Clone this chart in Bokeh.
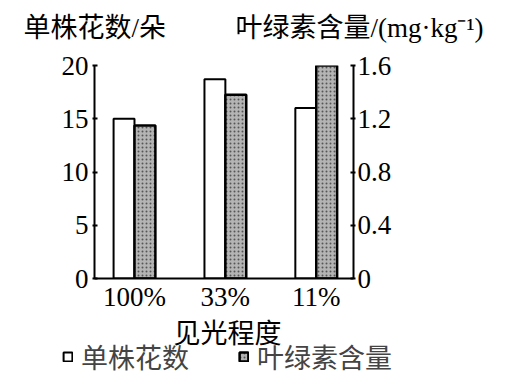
from bokeh.plotting import figure
from bokeh.layouts import column, row
from bokeh.models import (Range1d, LinearAxis, FixedTicker, Label, Legend, LegendItem,
                          ColumnDataSource)
from bokeh.transform import dodge
from bokeh.embed import file_html
from bokeh.resources import INLINE

# ---- data ----
categories = ["100%", "33%", "11%"]
flowers_per_plant = [15.0, 18.7, 16.0]      # 单株花数/朵 (left axis)
chlorophyll = [1.15, 1.38, 1.60]            # 叶绿素含量/(mg·kg⁻¹) (right axis)
left_ticks = [0, 5, 10, 15, 20]
right_ticks = [0, 0.4, 0.8, 1.2, 1.6]
left_title = "单株花数/朵"
right_title = "叶绿素含量/(mg·kg⁻¹)"
x_title = "见光程度"
legend_labels = ["单株花数", "叶绿素含量"]

SERIF = "Liberation Serif, Noto Sans CJK SC"
FS = "27px"
W = 530
HEAD_H, MAIN_H = 45, 20 + 213 + 36
FOOT_H = 377 - HEAD_H - MAIN_H

WHITE_BAR = dict(fill_color="white", line_color="black", line_width=2)
GRAY_BAR = dict(fill_color="#b4b4b4", line_color="black", line_width=2.5,
                hatch_pattern="dot", hatch_color="#555555", hatch_scale=4, hatch_weight=1)

def blank(h):
    f = figure(width=W, height=h, output_backend="svg", toolbar_location=None, title=None,
               x_range=Range1d(0, W), y_range=Range1d(0, h),
               x_axis_location=None, y_axis_location=None, min_border=0)
    f.grid.visible = False
    f.outline_line_color = None
    return f

def text_label(fig, txt, x, y, align="left"):
    fig.add_layout(Label(x=x, y=y, text=txt, text_font=SERIF, text_font_size=FS,
                         text_baseline="middle", text_align=align, text_color="black"))

# ---- header with the two axis titles ----
head = blank(HEAD_H)
text_label(head, left_title, 23, 18)
text_label(head, right_title, 235, 18)

# ---- main chart ----
src = ColumnDataSource(dict(x=list(range(len(categories))), flowers=flowers_per_plant,
                            chl=chlorophyll))

p = figure(width=W, height=MAIN_H, output_backend="svg", toolbar_location=None, title=None,
           x_range=Range1d(-0.44, 2.41), y_range=Range1d(0, 20),
           min_border_left=94, min_border_right=177, min_border_top=20,
           min_border_bottom=MAIN_H - 20 - 213)
p.extra_y_ranges = {"chl": Range1d(0, 1.6)}
p.outline_line_color = None
p.grid.visible = False

bw = 0.23
p.vbar(x=dodge("x", -bw / 2, range=p.x_range), top="flowers", width=bw, source=src,
       **WHITE_BAR)
p.vbar(x=dodge("x", bw / 2, range=p.x_range), top="chl", width=bw, source=src,
       y_range_name="chl", **GRAY_BAR)

def style_axis(ax):
    ax.axis_line_width = 2
    ax.axis_line_color = "black"
    ax.major_tick_line_width = 2
    ax.major_tick_in = 3
    ax.major_tick_out = 2
    ax.minor_tick_line_color = None
    ax.major_label_text_font = SERIF
    ax.major_label_text_font_size = FS
    ax.major_label_text_color = "black"
    ax.major_label_standoff = 4

xa = p.xaxis[0]
xa.ticker = FixedTicker(ticks=list(range(len(categories))))
xa.major_label_overrides = {i: c for i, c in enumerate(categories)}
style_axis(xa)
xa.major_tick_in = 0
xa.major_tick_out = 0
xa.major_label_standoff = 3

ya = p.yaxis[0]
ya.ticker = FixedTicker(ticks=left_ticks)
style_axis(ya)

ra = LinearAxis(y_range_name="chl", ticker=FixedTicker(ticks=right_ticks))
style_axis(ra)
ra.major_label_standoff = 2
ra.major_label_overrides = {0: "0", 0.4: "0.4", 0.8: "0.8", 1.2: "1.2", 1.6: "1.6"}
p.add_layout(ra, "right")

# ---- footer: x-axis title and legend (proxy renderers draw nothing: NaN data) ----
foot = blank(FOOT_H)
text_label(foot, x_title, 227, 44, align="center")
nan = float("nan")
k1 = foot.vbar(x=[nan], top=[nan], width=1, **WHITE_BAR)
k2 = foot.vbar(x=[nan], top=[nan], width=1, **GRAY_BAR)
legend = Legend(items=[LegendItem(label=legend_labels[0], renderers=[k1]),
                       LegendItem(label=legend_labels[1], renderers=[k2])],
                orientation="horizontal", location=(62, 1),
                label_text_font=SERIF, label_text_font_size=FS,
                glyph_width=11, glyph_height=11, label_standoff=8, spacing=49,
                padding=0, margin=0, background_fill_alpha=0, border_line_alpha=0)
foot.add_layout(legend)

layout = column(row(head), row(p), row(foot), spacing=0)
open("out.html", "w").write(file_html(layout, INLINE))
